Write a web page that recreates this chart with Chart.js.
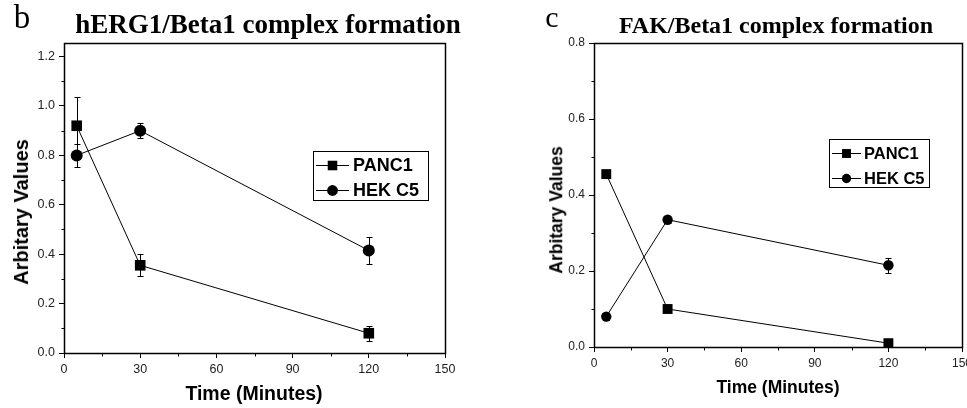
<!DOCTYPE html>
<html>
<head>
<meta charset="utf-8">
<script src="https://cdn.jsdelivr.net/npm/chart.js@4.4.1/dist/chart.umd.min.js"></script>
<style>
    body { margin: 0; background: #fff; width: 967px; height: 408px; overflow: hidden; position: relative; }
    .panel { position: absolute; top: 0; width: 480px; height: 408px; overflow: hidden; }
    .panel canvas { position: absolute; left: 0; top: 0; }
    .txt { position: absolute; white-space: nowrap; line-height: 1; color: #000; transform: translate(-50%, -50%); }
    .serif { font-family: "Liberation Serif", "Times New Roman", serif; }
    .sans { font-family: "Liberation Sans", Arial, sans-serif; font-weight: bold; }
    .ylab { transform: translate(-50%, -50%) rotate(-90deg); }
</style>
</head>
<body>
<div class="panel" style="left:0"><canvas id="hergChart" width="480" height="408"></canvas></div>
<div class="panel" style="left:487px"><canvas id="fakChart" width="500" height="408"></canvas></div>

<div class="txt serif" style="left:22px; top:17px; font-size:33px;">b</div>
<div class="txt serif" style="left:268px; top:24px; font-size:27px; font-weight:bold;">hERG1/Beta1 complex formation</div>
<div class="txt sans ylab" style="left:21px; top:212px; font-size:20px;">Arbitary Values</div>
<div class="txt sans" style="left:254px; top:394px; font-size:19.5px;">Time (Minutes)</div>

<div class="txt serif" style="left:552px; top:17px; font-size:30px;">c</div>
<div class="txt serif" style="left:776px; top:25px; font-size:24px; font-weight:bold;">FAK/Beta1 complex formation</div>
<div class="txt sans ylab" style="left:557px; top:210px; font-size:17.5px;">Arbitary Values</div>
<div class="txt sans" style="left:778px; top:388px; font-size:17.5px;">Time (Minutes)</div>

<script>
// Shared categories
const timePoints = [5, 30, 120];
const seriesNames = ['PANC1', 'HEK C5'];
const xTicks = [0, 30, 60, 90, 120, 150];

// Panel b - hERG1/Beta1
const hergPanc1 = [0.92, 0.355, 0.08];
const hergPanc1Err = [0.115, 0.045, 0.03];
const hergHek = [0.80, 0.90, 0.415];
const hergHekErr = [0.045, 0.03, 0.055];
const hergYTicks = [0.0, 0.2, 0.4, 0.6, 0.8, 1.0, 1.2];

// Panel c - FAK/Beta1
const fakPanc1 = [0.455, 0.10, 0.01];
const fakPanc1Err = [0.008, 0.008, 0.006];
const fakHek = [0.08, 0.335, 0.215];
const fakHekErr = [0.008, 0.008, 0.02];
const fakYTicks = [0.0, 0.2, 0.4, 0.6, 0.8];

/**
 * Error bars, minor ticks, frame box and boxed legend
 */
const framePlugin = {
    id: 'frame',
    beforeDatasetsDraw(chart, args, opts) {
        const ctx = chart.ctx;
        const yScale = chart.scales.y;
        ctx.save();
        ctx.strokeStyle = '#000';
        ctx.lineWidth = 1;
        chart.data.datasets.forEach((ds, i) => {
            const meta = chart.getDatasetMeta(i);
            ds.errors.forEach((err, j) => {
                const x = Math.round(meta.data[j].x) + 0.5;
                const v = ds.data[j].y;
                const yTop = Math.round(yScale.getPixelForValue(v + err)) + 0.5;
                const yBot = Math.round(yScale.getPixelForValue(v - err)) + 0.5;
                ctx.beginPath();
                ctx.moveTo(x, yTop);
                ctx.lineTo(x, yBot);
                ctx.moveTo(x - opts.cap, yTop);
                ctx.lineTo(x + opts.cap, yTop);
                ctx.moveTo(x - opts.cap, yBot);
                ctx.lineTo(x + opts.cap, yBot);
                ctx.stroke();
            });
        });
        ctx.restore();
    },
    afterDraw(chart, args, opts) {
        const ctx = chart.ctx;
        const area = chart.chartArea;
        const xs = chart.scales.x;
        const ys = chart.scales.y;
        ctx.save();
        ctx.strokeStyle = '#000';

        // frame
        const l = Math.round(area.left) + 0.5;
        const t = Math.round(area.top) + 0.5;
        const r = Math.round(area.right) + 0.5;
        const b = Math.round(area.bottom) + 0.5;
        ctx.lineWidth = opts.frameWidth;
        ctx.strokeRect(l, t, r - l, b - t);

        // minor ticks halfway between the major ones
        ctx.lineWidth = 1;
        ctx.beginPath();
        for (let k = 0; k < xs.ticks.length - 1; k++) {
            const px = Math.round(xs.getPixelForValue((xs.ticks[k].value + xs.ticks[k + 1].value) / 2)) + 0.5;
            ctx.moveTo(px, b);
            ctx.lineTo(px, b + opts.minorLength);
        }
        for (let k = 0; k < ys.ticks.length - 1; k++) {
            const py = Math.round(ys.getPixelForValue((ys.ticks[k].value + ys.ticks[k + 1].value) / 2)) + 0.5;
            ctx.moveTo(l, py);
            ctx.lineTo(l - opts.minorLength, py);
        }
        ctx.stroke();

        // legend box
        const lg = opts.legend;
        ctx.strokeRect(lg.left + 0.5, lg.top + 0.5, lg.width, lg.height);
        ctx.font = 'bold ' + lg.fontSize + 'px "Liberation Sans", Arial, sans-serif';
        ctx.textBaseline = 'middle';
        ctx.fillStyle = '#000';
        chart.data.datasets.forEach((ds, i) => {
            const cy = lg.top + lg.rowTop + i * lg.rowGap;
            ctx.beginPath();
            ctx.moveTo(lg.left + lg.lineStart, Math.round(cy) + 0.5);
            ctx.lineTo(lg.left + lg.lineEnd, Math.round(cy) + 0.5);
            ctx.stroke();
            Chart.helpers.drawPoint(ctx, {
                pointStyle: ds.pointStyle,
                radius: ds.pointRadius * lg.markerScale,
                rotation: 0,
                borderWidth: 0
            }, lg.left + (lg.lineStart + lg.lineEnd) / 2, cy + 0.5);
            ctx.fillText(ds.label, lg.left + lg.textStart, cy + 1);
        });
        ctx.restore();
    }
};

function makeSeries(name, values, errors, style, radius) {
    return {
        label: name,
        data: timePoints.map((t, i) => ({ x: t, y: values[i] })),
        errors: errors,
        borderColor: '#000',
        backgroundColor: '#000',
        borderWidth: 1,
        pointStyle: style,
        pointRadius: radius,
        pointHoverRadius: radius,
        pointBorderWidth: 0,
        tension: 0
    };
}

function makeChart(id, cfg) {
    const tickFont = { family: '"Liberation Sans", Arial, sans-serif', size: cfg.tickSize };
    return new Chart(document.getElementById(id), {
        type: 'line',
        data: { datasets: cfg.datasets },
        plugins: [framePlugin],
        options: {
            responsive: false,
            animation: false,
            events: [],
            layout: { padding: { top: 43, right: cfg.padRight, bottom: 0, left: 0 } },
            plugins: {
                legend: { display: false },
                tooltip: { enabled: false },
                frame: { cap: 3, minorLength: 3, frameWidth: 1.5, legend: cfg.legend }
            },
            scales: {
                x: {
                    type: 'linear',
                    min: 0,
                    max: 150,
                    afterBuildTicks: s => { s.ticks = xTicks.map(v => ({ value: v })); },
                    afterFit: s => { s.height = cfg.xHeight; },
                    grid: { drawOnChartArea: false, drawTicks: true, tickLength: 5, color: '#000' },
                    border: { display: false },
                    ticks: { font: tickFont, color: '#222', padding: 4, maxRotation: 0, autoSkip: false }
                },
                y: {
                    type: 'linear',
                    min: 0,
                    max: cfg.yMax,
                    afterBuildTicks: s => { s.ticks = cfg.yTicks.map(v => ({ value: v })); },
                    afterFit: s => { s.width = cfg.yWidth; },
                    grid: { drawOnChartArea: false, drawTicks: true, tickLength: 5, color: '#000' },
                    border: { display: false },
                    ticks: {
                        font: tickFont,
                        color: '#222',
                        padding: 4,
                        callback: v => v.toFixed(1)
                    }
                }
            }
        }
    });
}

makeChart('hergChart', {
    datasets: [
        makeSeries(seriesNames[0], hergPanc1, hergPanc1Err, 'rect', 7.5),
        makeSeries(seriesNames[1], hergHek, hergHekErr, 'circle', 6)
    ],
    yTicks: hergYTicks,
    yMax: 1.255,
    yWidth: 64,
    xHeight: 55,
    padRight: 35,
    tickSize: 12.5,
    legend: { left: 313, top: 151, width: 115, height: 49, fontSize: 18,
              rowTop: 14, rowGap: 25, lineStart: 3, lineEnd: 36, textStart: 40, markerScale: 0.9 }
});

makeChart('fakChart', {
    datasets: [
        makeSeries(seriesNames[0], fakPanc1, fakPanc1Err, 'rect', 7),
        makeSeries(seriesNames[1], fakHek, fakHekErr, 'circle', 5.2)
    ],
    yTicks: fakYTicks,
    yMax: 0.8,
    yWidth: 107,
    xHeight: 61,
    padRight: 25,
    tickSize: 12,
    legend: { left: 342, top: 139, width: 100, height: 48, fontSize: 16.5,
              rowTop: 14, rowGap: 25, lineStart: 3, lineEnd: 32, textStart: 35, markerScale: 0.9 }
});
</script>
</body>
</html>
